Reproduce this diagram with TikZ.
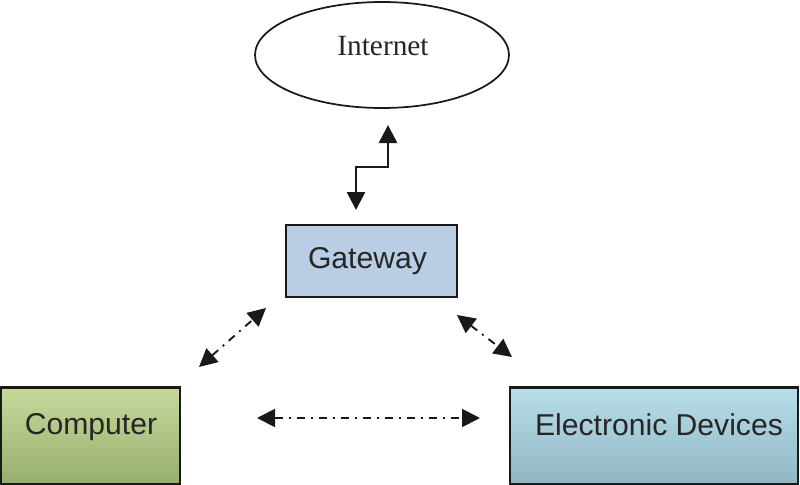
\documentclass[tikz,border=0pt]{standalone}
\usepackage{fontspec}
\setmainfont{Liberation Serif}
\setsansfont{Liberation Sans}
\usetikzlibrary{arrows.meta,shapes.geometric}
\definecolor{gwfill}{RGB}{185,205,229}
\definecolor{cptop}{RGB}{198,217,157}
\definecolor{cpbot}{RGB}{152,174,108}
\definecolor{edtop}{RGB}{184,222,233}
\definecolor{edbot}{RGB}{144,182,196}
\tikzset{
  boxnode/.style={draw=black!90,line width=1.6pt,inner sep=0pt,rectangle},
  lbl/.style={font=\sffamily\fontsize{22.6}{26}\selectfont,anchor=base,inner sep=0pt,text=black!85},
  dblarrow/.style={{Triangle[length=13.5pt,width=13.5pt]}-{Triangle[length=13.5pt,width=13.5pt]},line width=1.5pt,black!90},
  dashdotline/.style={dblarrow,line width=1.4pt,dash pattern=on 6pt off 4.5pt on 1.5pt off 4.5pt}
}
\begin{document}
\begin{tikzpicture}[x=0.75pt,y=-0.75pt]
\useasboundingbox (0,0) rectangle (800,485);
% shapes
\node[ellipse,draw=black!90,line width=1.3pt,inner sep=0pt,minimum width=190.5pt,minimum height=79.5pt] (inet) at (382,55) {};
\node[font=\rmfamily\fontsize{22}{25}\selectfont,anchor=base,inner sep=0pt,text=black!85] (inettxt) at (383,56) {Internet};
\node[boxnode,fill=gwfill,minimum width=128.25pt,minimum height=54pt] (gw) at (371.5,261) {};
\node[lbl] (gwtxt) at (367.5,268) {Gateway};
\node[boxnode,top color=cptop,bottom color=cpbot,minimum width=134.25pt,minimum height=72.75pt] (cp) at (90.5,436) {};
\node[lbl] (cptxt) at (91,434) {Computer};
\node[boxnode,top color=edtop,bottom color=edbot,minimum width=216pt,minimum height=72.75pt] (ed) at (654,436) {};
\node[lbl] (edtxt) at (659,435) {Electronic Devices};
% connector end points
\coordinate (z1) at (356,210);
\coordinate (z4) at (388,125);
\coordinate (l1) at (199,367);
\coordinate (l2) at (266,308);
\coordinate (r1) at (457,315);
\coordinate (r2) at (512,357);
\coordinate (h1) at (257,418);
\coordinate (h2) at (480,418);
% connectors
\draw[dblarrow,line width=2pt] (z1) -- ++(0,-43) -| (z4);
\draw[dashdotline] (l1) -- (l2);
\draw[dashdotline] (r1) -- (r2);
\draw[dashdotline] (h1) -- (h2);
\end{tikzpicture}
\end{document}
